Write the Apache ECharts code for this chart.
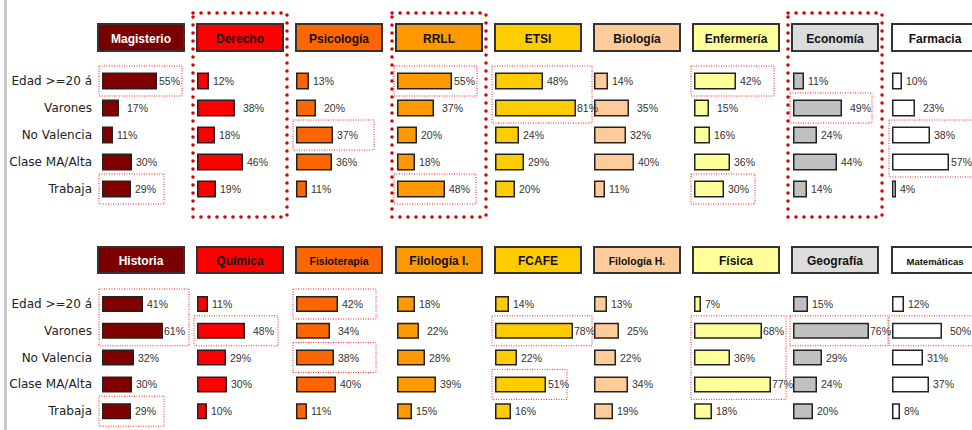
<!DOCTYPE html>
<html lang="es" style="height: 100%">
<head>
  <meta charset="utf-8">
</head>
<body style="height: 100%; margin: 0; background: #fff">
  <div id="container" style="width: 972px; height: 430px"></div>
  <script type="text/javascript" src="https://cdn.jsdelivr.net/npm/echarts@6/dist/echarts.min.js"></script>
  <script type="text/javascript">
    // filas (perfil del alumnado)
    var rows = ['Edad >=20 á', 'Varones', 'No Valencia', 'Clase MA/Alta', 'Trabaja'];

    // titulaciones, fila superior e inferior
    var topNames = ['Magisterio', 'Derecho', 'Psicología', 'RRLL', 'ETSI', 'Biología', 'Enfermería', 'Economía', 'Farmacia'];
    var bottomNames = ['Historia', 'Química', 'Fisioterapia', 'Filología I.', 'FCAFE', 'Filología H.', 'Física', 'Geografía', 'Matemáticas'];

    // porcentajes (%), en el orden de rows
    var topValues = [
      [55, 17, 11, 30, 29],
      [12, 38, 18, 46, 19],
      [13, 20, 37, 36, 11],
      [55, 37, 20, 18, 48],
      [48, 81, 24, 29, 20],
      [14, 35, 32, 40, 11],
      [42, 15, 16, 36, 30],
      [11, 49, 24, 44, 14],
      [10, 23, 38, 57, 4]
    ];
    var bottomValues = [
      [41, 61, 32, 30, 29],
      [11, 48, 29, 30, 10],
      [42, 34, 38, 40, 11],
      [18, 22, 28, 39, 15],
      [14, 78, 22, 51, 16],
      [13, 25, 22, 34, 19],
      [7, 68, 36, 77, 18],
      [15, 76, 29, 24, 20],
      [12, 50, 31, 37, 8]
    ];

    var barColors = ['#800000', '#ff0000', '#ff6600', '#ff9900', '#ffcc00', '#ffcc99', '#ffff99', '#c0c0c0', '#ffffff'];
    var headColors = ['#7a0000', '#ff0000', '#ff6600', '#ff9900', '#ffcc00', '#ffcc99', '#ffff99', '#dcdcdc', '#ffffff'];

    // ---- layout ----
    var headX = [98, 197, 296, 396, 495, 594, 693, 792, 892];
    var barX = [102, 197, 296, 397, 495, 594, 694, 793, 892];
    var bands = [
      { headY: 24, headH: 27, top: 67.5, height: 135 },
      { headY: 247, headH: 26, top: 290.6, height: 134 }
    ];
    var titleSize = {
      'Fisioterapia': 10.5,
      'Filología H.': 10.5,
      'Matemáticas': 9.5
    };

    // cuadros punteados finos: [banda, columna, fila ini, fila fin, ancho]
    var marks = [
      [0, 0, 0, 0, 83], [0, 0, 4, 4, 65], [0, 2, 2, 2, 81], [0, 3, 0, 0, 83],
      [0, 3, 4, 4, 82], [0, 4, 0, 1, 100], [0, 6, 0, 0, 83], [0, 6, 4, 4, 64],
      [0, 7, 1, 1, 82], [0, 8, 2, 3, 100],
      [1, 0, 0, 1, 90], [1, 0, 4, 4, 65], [1, 1, 1, 1, 84], [1, 2, 0, 0, 83],
      [1, 2, 2, 2, 83], [1, 4, 1, 1, 100], [1, 4, 3, 3, 75], [1, 6, 1, 3, 95],
      [1, 7, 1, 1, 98], [1, 8, 1, 1, 100]
    ];
    // cuadros punteados gruesos (columnas destacadas)
    var bigMarks = [1, 3, 7];

    var dom = document.getElementById('container');
    var myChart = echarts.init(dom, null, { renderer: 'svg' });

    var grids = [], xAxes = [], yAxes = [], series = [], graphics = [];

    graphics.push({
      type: 'rect',
      shape: { x: 4, y: 0, width: 3, height: 430 },
      style: { fill: '#c8c8c8' }
    });

    [topValues, bottomValues].forEach(function (values, b) {
      var names = b === 0 ? topNames : bottomNames;
      var band = bands[b];
      values.forEach(function (vals, c) {
        var idx = grids.length;
        grids.push({
          left: barX[c],
          top: band.top,
          width: 100,
          height: band.height,
          containLabel: false,
          outerBoundsMode: 'none'
        });
        xAxes.push({ gridIndex: idx, type: 'value', min: 0, max: 100, show: false });
        yAxes.push({
          gridIndex: idx,
          type: 'category',
          data: rows,
          inverse: true,
          show: c === 0,
          axisLine: { show: false },
          axisTick: { show: false },
          axisLabel: {
            margin: 10,
            fontFamily: 'DejaVu Sans',
            fontSize: 12,
            color: '#222'
          }
        });
        series.push({
          type: 'bar',
          xAxisIndex: idx,
          yAxisIndex: idx,
          barWidth: b === 0 ? 17 : 16,
          silent: true,
          itemStyle: { color: barColors[c], borderColor: '#222', borderWidth: 1.5 },
          label: {
            show: true,
            position: 'right',
            formatter: '{c}%',
            fontFamily: 'Liberation Sans',
            fontSize: 10.5,
            color: '#333'
          },
          data: vals.map(function (v, r) {
            var d = r === 1 ? 8 : 4;
            if (r !== 1 && v >= 50) d = 2;
            if (v >= 60) d = 1;
            return { value: v, label: { distance: d } };
          })
        });

        // cabecera
        graphics.push({
          type: 'rect',
          shape: { x: headX[c], y: band.headY, width: 86, height: band.headH },
          style: { fill: headColors[c], stroke: '#333', lineWidth: 2 }
        });
        graphics.push({
          type: 'text',
          x: headX[c] + 43,
          y: band.headY + band.headH / 2 + 1,
          style: {
            text: names[c],
            align: 'center',
            verticalAlign: 'middle',
            fontFamily: 'Liberation Sans',
            fontWeight: 'bold',
            fontSize: titleSize[names[c]] || 12,
            fill: c === 0 ? '#fff' : '#111'
          }
        });
      });
    });

    function rowCenter(b, r) {
      var band = bands[b];
      var step = band.height / rows.length;
      return band.top + step * (r + 0.5);
    }

    marks.forEach(function (m) {
      var b = m[0], c = m[1];
      var y0 = rowCenter(b, m[2]) - 15;
      var y1 = rowCenter(b, m[3]) + 15;
      graphics.push({
        type: 'rect',
        shape: { x: barX[c] - 3, y: y0, width: m[4], height: y1 - y0 },
        style: { fill: null, stroke: '#ff2020', lineWidth: 1, lineDash: [1, 1.5] }
      });
    });

    bigMarks.forEach(function (c) {
      graphics.push({
        type: 'rect',
        shape: { x: headX[c] - 4, y: 13, width: 94, height: 204 },
        style: {
          fill: null,
          stroke: '#d40000',
          lineWidth: 3.5,
          lineCap: 'round',
          lineDash: [0.1, 7.9]
        }
      });
    });

    var option = {
      animation: false,
      grid: grids,
      xAxis: xAxes,
      yAxis: yAxes,
      series: series,
      graphic: graphics
    };

    myChart.setOption(option);
    window.addEventListener('resize', myChart.resize);
  </script>
</body>
</html>
